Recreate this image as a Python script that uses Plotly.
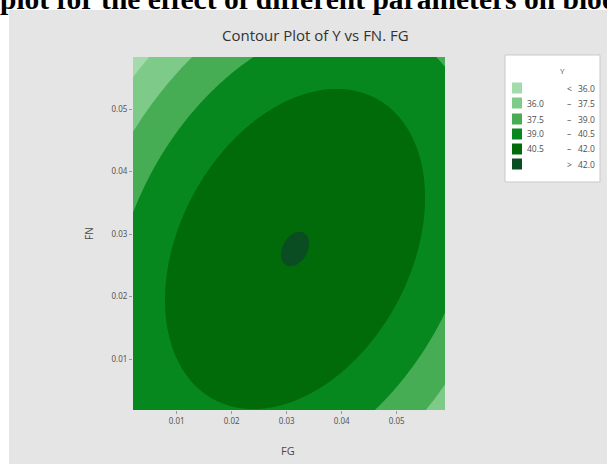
import numpy as np
import plotly.graph_objects as go

# Fitted second-order response-surface model for Y in uncoded units
MODEL_TERMS = ["Constant", "FG", "FN", "FG*FG", "FN*FN", "FG*FN"]
MODEL_COEFS = [38.605, 141.30, 85.98, -3025.0, -2578.0, 1787.5]

# Axis settings
FG_RANGE = [0.00205, 0.05878]
FN_RANGE = [0.00184, 0.05832]
FG_TICKS = [0.01, 0.02, 0.03, 0.04, 0.05]
FN_TICKS = [0.01, 0.02, 0.03, 0.04, 0.05]
TICK_TEXT = ["0.01", "0.02", "0.03", "0.04", "0.05"]

# Contour levels of Y and the fill colour of each band (lowest band first)
LEVELS = [36.0, 37.5, 39.0, 40.5, 42.0]
BAND_COLORS = ["#a3dbad", "#7ecb89", "#47ad55", "#07881f", "#006b08", "#0b4d22"]

W, H = 607, 464


def px(x):
    return x / W


def py(y):
    return 1 - y / H


# Evaluate the fitted surface over the design region
fg = np.linspace(FG_RANGE[0], FG_RANGE[1], 240)
fn = np.linspace(FN_RANGE[0], FN_RANGE[1], 240)
FGg, FNg = np.meshgrid(fg, fn)
b0, b1, b2, b11, b22, b12 = MODEL_COEFS
Y = b0 + b1 * FGg + b2 * FNg + b11 * FGg ** 2 + b22 * FNg ** 2 + b12 * FGg * FNg

# Stepwise colour scale: one flat colour per band between contour levels
n = len(BAND_COLORS)
edges = [0.0] + [(2 * i + 1) / (2 * (n - 1)) for i in range(n - 1)] + [1.0]
colorscale = []
for i, c in enumerate(BAND_COLORS):
    colorscale.append([edges[i], c])
    colorscale.append([edges[i + 1], c])

step = LEVELS[1] - LEVELS[0]
fig = go.Figure(
    go.Contour(
        x=fg,
        y=fn,
        z=Y,
        contours=dict(start=LEVELS[0], end=LEVELS[-1], size=step,
                      coloring="fill", showlines=False),
        colorscale=colorscale,
        showscale=False,
        line=dict(width=0),
        hoverinfo="skip",
    )
)

tick_font = dict(family="Noto Sans", size=8, color="#555555")
fig.update_xaxes(
    range=FG_RANGE, domain=[px(133), px(445)], tickvals=FG_TICKS, ticktext=TICK_TEXT,
    showgrid=False, zeroline=False, showline=False, ticks="outside", ticklen=3,
    tickcolor="#9a9a9a", tickfont=tick_font,
)
fig.update_yaxes(
    range=FN_RANGE, domain=[py(410), py(57)], tickvals=FN_TICKS, ticktext=TICK_TEXT,
    showgrid=False, zeroline=False, showline=False, ticks="outside", ticklen=3,
    tickcolor="#9a9a9a", tickfont=tick_font,
)

shapes = [
    # grey panel behind the chart
    dict(type="rect", xref="paper", yref="paper", x0=px(9), x1=1, y0=0, y1=py(10),
         fillcolor="#e5e5e5", line=dict(width=0), layer="below"),
    # legend frame
    dict(type="rect", xref="paper", yref="paper", x0=px(505), x1=px(600),
         y0=py(182), y1=py(55), fillcolor="#ffffff",
         line=dict(color="#c9c9c9", width=1), layer="above"),
]

annotations = [
    dict(text="<b>plot for the effect of different parameters on biodiesel</b>",
         xref="paper", yref="paper", x=px(-1), y=py(16.5), xanchor="left", yanchor="bottom",
         showarrow=False, borderpad=0,
         font=dict(family="Liberation Serif", size=29.5, color="#000000")),
    dict(text="Contour Plot of Y vs FN. FG", xref="paper", yref="paper",
         x=px(315), y=py(35), xanchor="center", yanchor="middle", showarrow=False,
         font=dict(family="Open Sans", size=15, color="#333333")),
    dict(text="FG", xref="paper", yref="paper", x=px(288), y=py(450),
         xanchor="center", yanchor="middle", showarrow=False,
         font=dict(family="Open Sans", size=11, color="#4a4a4a")),
    dict(text="FN", xref="paper", yref="paper", x=px(89), y=py(234),
         xanchor="center", yanchor="middle", showarrow=False, textangle=-90,
         font=dict(family="Open Sans", size=10, color="#4a4a4a")),
    dict(text="Y", xref="paper", yref="paper", x=px(562), y=py(70),
         xanchor="center", yanchor="middle", showarrow=False,
         font=dict(family="Open Sans", size=8, color="#555555")),
]

# Legend rows: darkest band at the bottom
leg_font = dict(family="Open Sans", size=8.5, color="#4d4d4d")
row_y = [88, 103, 119, 134, 149, 164]
for i, c in enumerate(BAND_COLORS):
    yc = row_y[i]
    shapes.append(dict(type="rect", xref="paper", yref="paper", x0=px(512), x1=px(522),
                       y0=py(yc + 5.5), y1=py(yc - 5.5), fillcolor=c,
                       line=dict(width=0), layer="above"))
    if i == 0:
        lo, mid, hi = "", "<", f"{LEVELS[0]:.1f}"
    elif i == n - 1:
        lo, mid, hi = "", ">", f"{LEVELS[-1]:.1f}"
    else:
        lo, mid, hi = f"{LEVELS[i - 1]:.1f}", "\u2013", f"{LEVELS[i]:.1f}"
    for txt, x, anchor in ((lo, 546, "right"), (mid, 569, "center"), (hi, 597, "right")):
        if txt:
            annotations.append(dict(text=txt, xref="paper", yref="paper", x=px(x), y=py(yc),
                                    xanchor=anchor, yanchor="middle", showarrow=False,
                                    font=leg_font))

fig.update_layout(
    width=W, height=H, margin=dict(l=0, r=0, t=0, b=0),
    paper_bgcolor="#ffffff", plot_bgcolor="rgba(0,0,0,0)",
    shapes=shapes, annotations=annotations, showlegend=False,
)

fig.write_html("out.html")
